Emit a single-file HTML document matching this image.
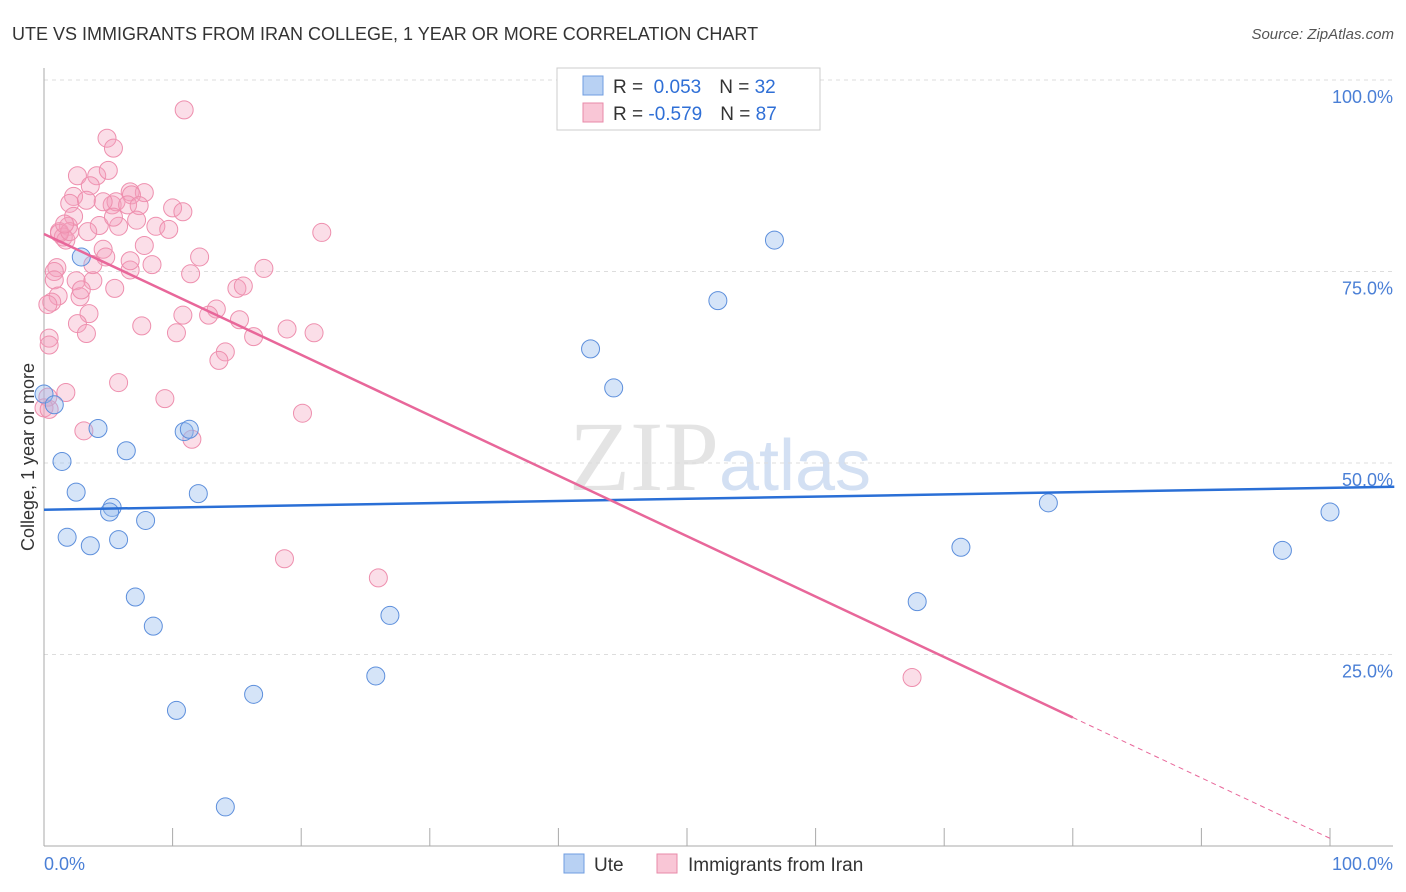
<!DOCTYPE html>
<html><head><meta charset="utf-8"><style>
body{margin:0;background:#fff;font-family:"Liberation Sans",sans-serif;}
svg{display:block}
</style></head><body>
<svg id="chart" width="1406" height="892" viewBox="0 0 1406 892">
<text x="12" y="40" font-size="18" fill="#333">UTE VS IMMIGRANTS FROM IRAN COLLEGE, 1 YEAR OR MORE CORRELATION CHART</text>
<text x="1394" y="39" font-size="15" fill="#555" text-anchor="end" font-style="italic">Source: ZipAtlas.com</text>
<text x="720" y="490" font-size="100" fill="#e4e4e4" text-anchor="middle" font-family="Liberation Serif">ZIP<tspan fill="#d3e0f3" font-family="Liberation Sans" font-size="72">atlas</tspan></text>
<g id="grid"></g>
<line x1="44" y1="68" x2="44" y2="846" stroke="#aaa"/>
<line x1="44" y1="846" x2="1393" y2="846" stroke="#aaa"/>
<g id="xticks"></g>
<text transform="translate(34,457) rotate(-90)" font-size="18" fill="#333" text-anchor="middle">College, 1 year or more</text>
<text x="44" y="870" font-size="18" fill="#4a7fd6">0.0%</text>
<text x="1393" y="870" font-size="18" fill="#4a7fd6" text-anchor="end">100.0%</text>
<g id="points"></g>
<g id="lines"></g>
<g>
<rect x="557" y="68" width="263" height="62" fill="#fff" stroke="#ccc"/>
<rect x="583" y="76" width="20" height="19" fill="#b8d1f3" stroke="#6f9de0"/>
<rect x="583" y="103" width="20" height="19" fill="#f9c6d6" stroke="#e88aa8"/>
<text x="613" y="93" font-size="19" fill="#333">R = <tspan fill="#2f6fd6">&#160;0.053</tspan><tspan dx="18">N = </tspan><tspan fill="#2f6fd6">32</tspan></text>
<text x="613" y="120" font-size="19" fill="#333">R = <tspan fill="#2f6fd6">-0.579</tspan><tspan dx="18">N = </tspan><tspan fill="#2f6fd6">87</tspan></text>
</g>
<g>
<rect x="564" y="854" width="20" height="19" fill="#b8d1f3" stroke="#6f9de0"/>
<text x="594" y="871" font-size="19" fill="#333">Ute</text>
<rect x="657" y="854" width="20" height="19" fill="#f9c6d6" stroke="#e88aa8"/>
<text x="688" y="871" font-size="19" fill="#333">Immigrants from Iran</text>
</g>
</svg>
<script>
const yTicks=[25,50,75,100];
const yTickLabels=["25.0%","50.0%","75.0%","100.0%"];
const xTicks=[0,10,20,30,40,50,60,70,80,90,100];
const uteX=[0,0.8,1.4,2.5,1.8,3.6,4.2,5.3,5.1,5.8,6.4,7.9,7.1,8.5,10.3,10.9,11.3,12,14.1,16.3,25.8,26.9,42.5,44.3,52.4,56.8,67.9,71.3,78.1,96.3,100,2.9];
const uteY=[59,57.6,50.2,46.2,40.3,39.2,54.5,44.2,43.6,40,51.6,42.5,32.5,28.7,17.7,54.1,54.4,46,5.1,19.8,22.2,30.1,64.9,59.8,71.2,79.1,31.9,39,44.8,38.6,43.6,76.9];
const iranX=[10.9,4.9,5.4,2.6,4.1,5,3.6,2.3,6.7,7.8,6.8,2,3.3,5.3,5.6,4.6,6.5,7.4,10,10.8,2.3,7.2,1.9,4.3,3.4,5.8,8.7,9.7,21.6,1.2,1.5,1.7,4.6,7.8,4.8,12.1,8.4,1,0.8,6.7,11.4,17.1,0.8,2.5,3.8,5.5,2.8,15,15.5,1.1,0.6,0.3,13.4,12.8,10.8,3.5,2.6,15.2,7.6,18.9,21,3.3,10.3,16.3,0.4,0.4,14.1,13.6,5.8,1.7,0.3,0,9.4,20.1,3.1,11.5,18.7,26,67.5,1.2,2,3.8,0.4,5.4,6.7,2.9,1.6];
const iranY=[96.1,92.4,91.1,87.5,87.5,88.2,86.2,84.8,85.4,85.3,85,83.9,84.3,83.7,84.1,84.1,83.7,83.6,83.3,82.8,82.2,81.7,80.9,81,80.2,80.9,80.9,80.5,80.1,80.2,79.5,79.1,77.9,78.4,76.9,76.9,75.9,75.5,75,75.2,74.7,75.4,73.9,73.8,73.8,72.8,71.7,72.8,73.1,71.8,71,70.7,70.1,69.3,69.3,69.5,68.2,68.7,67.9,67.5,67,66.9,67,66.5,66.3,65.4,64.5,63.4,60.5,59.2,58.6,57.2,58.4,56.5,54.2,53.1,37.5,35,22,80,80.2,75.9,57,82.1,76.4,72.6,81.2];
const uteFit=[43.9,46.9];  // values at x=0 and x=105
const iranFit=[79.9,1.0]; // values at x=0 and x=100
const X=v=>44+v*12.86, Y=v=>846-v*7.66;
const NS="http://www.w3.org/2000/svg";
function mk(tag,attrs,parent){const e=document.createElementNS(NS,tag);for(const k in attrs)e.setAttribute(k,attrs[k]);parent.appendChild(e);return e;}
const grid=document.getElementById('grid');
yTicks.forEach((t,i)=>{
 const l=mk('line',{x1:44,x2:1393,y1:Y(t),y2:Y(t),stroke:'#ddd','stroke-dasharray':'4,4'},grid);
 
 
 const tx=mk('text',{x:1393,y:Y(t)+23,'font-size':18,fill:'#4a7fd6','text-anchor':'end'},grid);
 tx.textContent=yTickLabels[i];
 
 
});
const xt=document.getElementById('xticks');
xTicks.forEach(t=>{
 const l=mk('line',{x1:X(t),x2:X(t),y1:828,y2:846,stroke:'#aaa'},xt);
 
 
});
const pts=document.getElementById('points');
iranX.forEach((x,i)=>{
 const c=mk('circle',{cx:X(x),cy:Y(iranY[i]),r:9,fill:'rgba(244,160,188,0.35)',stroke:'#ee8fae','stroke-width':1},pts);
 
 
});
uteX.forEach((x,i)=>{
 const c=mk('circle',{cx:X(x),cy:Y(uteY[i]),r:9,fill:'rgba(150,188,238,0.4)',stroke:'#5d8fdc','stroke-width':1},pts);
 
 
});
const lg=document.getElementById('lines');
const ul=mk('line',{x1:X(0),y1:Y(uteFit[0]),x2:X(105),y2:Y(uteFit[1]),stroke:'#2a6fd6','stroke-width':2.5},lg);


const f=x=>iranFit[0]+(iranFit[1]-iranFit[0])*x/100;
const pl=mk('line',{x1:X(0),y1:Y(f(0)),x2:X(80),y2:Y(f(80)),stroke:'#e8679a','stroke-width':2.5},lg);


const pd=mk('line',{x1:X(80),y1:Y(f(80)),x2:X(100),y2:Y(f(100)),stroke:'#e8679a','stroke-width':1,'stroke-dasharray':'5,4'},lg);


</script>
</body></html>
